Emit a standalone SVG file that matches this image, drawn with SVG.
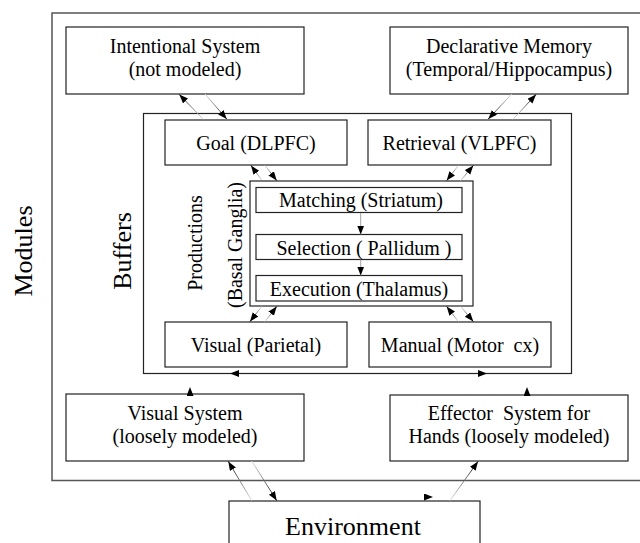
<svg xmlns="http://www.w3.org/2000/svg" width="640" height="543" viewBox="0 0 640 543">
<style>
.box{fill:#fff;stroke:#222;stroke-width:1.2}
.outer{fill:none;stroke:#555;stroke-width:1.5}
.t{font-family:"Liberation Serif","Times New Roman",serif;font-size:20px;fill:#000;text-anchor:middle}
.big{font-size:26px}
.ar{stroke-width:0.9;fill:none;marker-end:url(#ah)}
.dr{stroke:url(#gDR)}
.ul{stroke:url(#gUL)}
.ur{stroke:url(#gUR)}
.dl{stroke:url(#gDL)}
.v{stroke:#999;stroke-width:0.9;marker-end:url(#ah)}
.hid{stroke:#fff;stroke-opacity:0;stroke-width:0.9;marker-end:url(#ah)}
</style>
<defs>
<marker id="ah" markerUnits="userSpaceOnUse" markerWidth="10" markerHeight="8" refX="9" refY="3.5" orient="auto">
<path d="M0,0 L9,3.5 L0,7 z" fill="#000"/>
</marker>
<linearGradient id="gDR" x1="0" y1="0" x2="1" y2="1"><stop offset="0" stop-color="#ddd"/><stop offset="1" stop-color="#000"/></linearGradient>
<linearGradient id="gUL" x1="1" y1="1" x2="0" y2="0"><stop offset="0" stop-color="#ddd"/><stop offset="1" stop-color="#000"/></linearGradient>
<linearGradient id="gUR" x1="0" y1="1" x2="1" y2="0"><stop offset="0" stop-color="#ddd"/><stop offset="1" stop-color="#000"/></linearGradient>
<linearGradient id="gDL" x1="1" y1="0" x2="0" y2="1"><stop offset="0" stop-color="#ddd"/><stop offset="1" stop-color="#000"/></linearGradient>
</defs>

<g id="modules">
<rect class="outer" x="52" y="13" width="600" height="467.5"/>
<text class="t big" transform="translate(32,251) rotate(-90)">Modules</text>
</g>

<g id="intentional">
<rect class="box" x="66" y="27" width="238" height="67"/>
<text class="t" x="185" y="53">Intentional System</text>
<text class="t" x="185" y="76">(not modeled)</text>
</g>

<g id="declarative">
<rect class="box" x="390" y="27" width="238" height="67"/>
<text class="t" x="509" y="53">Declarative Memory</text>
<text class="t" x="509" y="76">(Temporal/Hippocampus)</text>
</g>

<g id="buffers">
<rect class="box" x="143.5" y="113.5" width="428" height="260"/>
<text class="t big" transform="translate(131,251) rotate(-90)">Buffers</text>
</g>

<g id="goal">
<rect class="box" x="165" y="120" width="182" height="45"/>
<text class="t" x="256" y="149.5">Goal (DLPFC)</text>
</g>

<g id="retrieval">
<rect class="box" x="368" y="120" width="183" height="45"/>
<text class="t" x="459.5" y="149.5">Retrieval (VLPFC)</text>
</g>

<g id="productions">
<rect class="box" x="250" y="181" width="223" height="125"/>
<text class="t" transform="translate(202,243) rotate(-90)">Productions</text>
<text class="t" transform="translate(242,245) rotate(-90)">(Basal Ganglia)</text>
</g>

<g id="matching">
<rect class="box" x="256" y="187.5" width="206" height="25"/>
<text class="t" x="361" y="207">Matching (Striatum)</text>
</g>

<g id="selection">
<rect class="box" x="256" y="234.5" width="206" height="25"/>
<text class="t" x="364" y="254.5">Selection ( Pallidum )</text>
</g>

<g id="execution">
<rect class="box" x="256" y="275.5" width="206" height="25.5"/>
<text class="t" x="359" y="296">Execution (Thalamus)</text>
</g>

<g id="visual">
<rect class="box" x="165" y="322" width="182" height="45"/>
<text class="t" x="256" y="351.5">Visual (Parietal)</text>
</g>

<g id="manual">
<rect class="box" x="369" y="322" width="182" height="45"/>
<text class="t" x="460" y="351.5" xml:space="preserve">Manual (Motor  cx)</text>
</g>

<g id="visualsystem">
<rect class="box" x="66" y="394" width="238" height="67"/>
<text class="t" x="185" y="420">Visual System</text>
<text class="t" x="185" y="443">(loosely modeled)</text>
</g>

<g id="effector">
<rect class="box" x="390" y="395" width="238" height="66"/>
<text class="t" x="509" y="420" xml:space="preserve">Effector  System for</text>
<text class="t" x="509" y="443">Hands (loosely modeled)</text>
</g>

<g id="environment">
<rect class="box" x="229" y="501" width="251" height="60"/>
<text class="t big" x="353" y="535">Environment</text>
</g>

<g id="connectors">
<line class="ar ul" x1="203.3" y1="119.3" x2="179.3" y2="94.5"/>
<line class="ar dr" x1="205" y1="94" x2="226.7" y2="119"/>
<line class="ar dl" x1="511.7" y1="94" x2="488.3" y2="119"/>
<line class="ar ur" x1="513" y1="119.3" x2="536" y2="94.5"/>
<line class="ar ul" x1="261.7" y1="180" x2="251" y2="165.5"/>
<line class="ar dr" x1="265" y1="165.5" x2="276.7" y2="180.5"/>
<line class="ar dl" x1="458.3" y1="165.5" x2="446.7" y2="180.5"/>
<line class="ar ur" x1="460.7" y1="180.5" x2="473.3" y2="165.5"/>
<line class="ar dl" x1="261.7" y1="306.5" x2="250" y2="321.5"/>
<line class="ar ur" x1="265" y1="321.5" x2="276.7" y2="306.5"/>
<line class="ar ul" x1="458.3" y1="321.5" x2="446.7" y2="306.5"/>
<line class="ar dr" x1="460.7" y1="306.5" x2="473.3" y2="321.5"/>
<line class="v" x1="360.7" y1="213" x2="360.7" y2="234.5"/>
<line class="v" x1="360.7" y1="259.5" x2="360.7" y2="275.5"/>
<line class="hid" x1="240" y1="373.5" x2="230" y2="373.5"/>
<line class="hid" x1="190" y1="394" x2="190" y2="387"/>
<line class="hid" x1="477" y1="373.5" x2="487" y2="373.5"/>
<line class="hid" x1="527" y1="394" x2="527" y2="387"/>
<line class="ar ul" x1="251.7" y1="500.5" x2="228.3" y2="461.5"/>
<line class="ar dr" x1="251.7" y1="461" x2="276.7" y2="500.5"/>
<line class="ar ur" x1="450" y1="500.5" x2="478" y2="461.5"/>
<line class="hid" x1="423" y1="497" x2="433" y2="497"/>
</g>
</svg>
